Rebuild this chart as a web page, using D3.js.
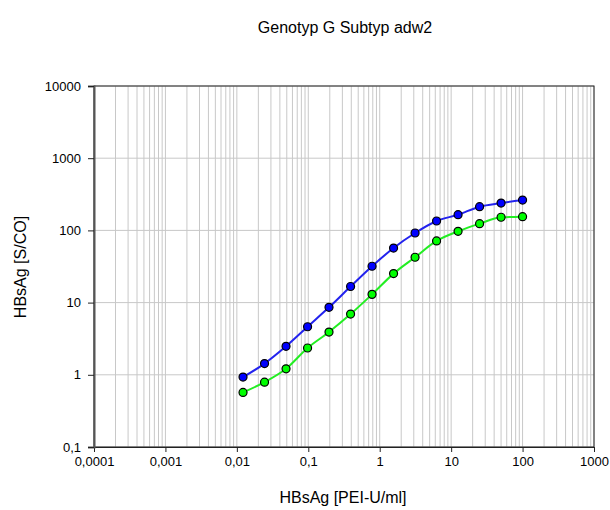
<!DOCTYPE html>
<html><head><meta charset="utf-8">
<script src="https://cdn.jsdelivr.net/npm/d3@7"></script>
<style>body{margin:0;background:#fff;} text{font-family:"Liberation Sans",Arial,sans-serif;}</style>
</head><body><svg id="c" width="610" height="510"></svg>
<script>
const title = "Genotyp G Subtyp adw2";
const xTitle = "HBsAg [PEI-U/ml]";
const yTitle = "HBsAg [S/CO]";
const concentrations = [0.0122, 0.0244, 0.0488, 0.0977, 0.195, 0.391, 0.781, 1.5625, 3.125, 6.25, 12.5, 25, 50, 100];
const seriesBlue = [0.93, 1.43, 2.48, 4.63, 8.6, 16.7, 31.9, 57, 92, 135, 165, 213, 239, 263];
const seriesGreen = [0.57, 0.79, 1.21, 2.35, 3.91, 6.93, 13.0, 25.2, 42.5, 71.4, 97, 124, 152, 155];
const xTickValues = [0.0001, 0.001, 0.01, 0.1, 1, 10, 100, 1000];
const xTickLabels = ["0,0001", "0,001", "0,01", "0,1", "1", "10", "100", "1000"];
const yTickValues = [0.1, 1, 10, 100, 1000, 10000];
const yTickLabels = ["0,1", "1", "10", "100", "1000", "10000"];

const svg = d3.select("#c");
const L = 94, R = 594, T = 86, B = 447;
const x = d3.scaleLog().domain([0.0001, 1000]).range([L, R]);
const y = d3.scaleLog().domain([0.1, 10000]).range([B, T]);

// minor vertical grid
const minor = [];
for (let e = -4; e < 3; e++) for (let m = 1; m <= 9; m++) minor.push(m * Math.pow(10, e));
minor.push(1000);
svg.append("g").selectAll("line").data(minor).join("line")
  .attr("x1", d => x(d)).attr("x2", d => x(d)).attr("y1", T).attr("y2", B)
  .attr("stroke", "#c8c8c8").attr("stroke-width", 1);
svg.append("g").selectAll("line").data(yTickValues).join("line")
  .attr("x1", L).attr("x2", R).attr("y1", d => y(d)).attr("y2", d => y(d))
  .attr("stroke", "#c8c8c8").attr("stroke-width", 1);

// frame
svg.append("rect").attr("x", L).attr("y", T).attr("width", R - L).attr("height", B - T)
  .attr("fill", "none").attr("stroke", "#222").attr("stroke-width", 1);

// axes
const xAxis = d3.axisBottom(x).tickValues(xTickValues).tickFormat((d, i) => xTickLabels[i]).tickSizeOuter(0).tickSize(5).tickPadding(5);
const gx = svg.append("g").attr("transform", `translate(0,${B})`).call(xAxis);
const yAxis = d3.axisLeft(y).tickValues(yTickValues).tickFormat((d, i) => yTickLabels[i]).tickSizeOuter(0).tickSize(6).tickPadding(7);
const gy = svg.append("g").attr("transform", `translate(${L},0)`).call(yAxis);
[gx, gy].forEach(g => {
  g.selectAll("text").attr("font-size", 13).attr("fill", "#000").attr("font-family", "Liberation Sans, Arial, sans-serif");
  g.selectAll("line").attr("stroke", "#222");
  g.select(".domain").attr("stroke", "#555").attr("stroke-width", 2);
});
gx.select(".domain").attr("stroke", "#222").attr("stroke-width", 1);

// series
const line = d3.line().x(d => x(d[0])).y(d => y(d[1])).curve(d3.curveMonotoneX);
const series = [
  {vals: seriesGreen, line: "#22ee22", fill: "#00ff00"},
  {vals: seriesBlue, line: "#2222ee", fill: "#0000ff"}
];
series.forEach(s => {
  const pts = concentrations.map((c, i) => [c, s.vals[i]]);
  svg.append("path").datum(pts).attr("d", line).attr("fill", "none").attr("stroke", s.line).attr("stroke-width", 2);
  svg.append("g").selectAll("circle").data(pts).join("circle")
    .attr("cx", d => x(d[0])).attr("cy", d => y(d[1])).attr("r", 4)
    .attr("fill", s.fill).attr("stroke", "#000").attr("stroke-width", 1.2);
});

// titles
svg.append("text").attr("x", 345).attr("y", 33).attr("text-anchor", "middle").attr("font-size", 16).text(title);
svg.append("text").attr("x", 343).attr("y", 503).attr("text-anchor", "middle").attr("font-size", 16).text(xTitle);
svg.append("text").attr("transform", "translate(26,267) rotate(-90)").attr("text-anchor", "middle").attr("font-size", 16).text(yTitle);
</script></body></html>
